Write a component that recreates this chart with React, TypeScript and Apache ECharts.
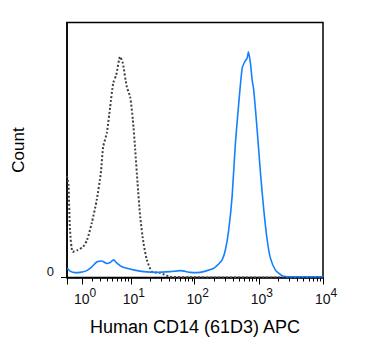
import React, { useEffect, useRef } from "react";
import * as echarts from "echarts";

// Fluorescence intensity (APC) and relative counts
const isotypeX = [-0.27, -0.145, -0.021, 0.203, 0.649, 1.09, 1.47, 1.96, 2.53, 3.06, 3.39, 3.96, 4.54, 5.13, 5.76, 6.69, 7.4, 8.61, 9.74, 10.76, 11.72, 12.76, 14.07, 15.84, 17.92, 21.5, 29.0, 41.6, 85, 300, 2000, 10000];
const isotypeY = [39.8, 36.3, 18.6, 10.1, 10.8, 12.0, 14.7, 21.4, 30.4, 41.0, 51.2, 56.7, 66.9, 76.3, 79.4, 86.6, 84.1, 74.7, 70.8, 61.8, 50.0, 37.1, 23.7, 13.5, 6.9, 2.3, 1.8, 0.3, 0.1, 0, 0, 0];

const cd14X = [-0.245, -0.021, 0.394, 0.823, 1.44, 1.96, 2.53, 3.2, 3.96, 4.54, 5.2, 5.92, 7.13, 8.61, 11.39, 15.84, 25.7, 41.6, 59.6, 85.4, 108.8, 137.9, 197.7, 236.5, 267.4, 301, 339, 383, 431, 486, 549, 603, 657, 688, 740, 786, 833, 942, 1061, 1194, 1349, 1519, 1819, 2315, 3120, 10000];
const cd14Y = [3.6, 2.5, 1.9, 2.0, 2.7, 4.2, 6.1, 6.5, 5.5, 5.9, 6.9, 5.6, 4.2, 3.6, 2.9, 2.3, 2.0, 2.3, 2.7, 2.0, 1.9, 2.3, 3.6, 5.3, 6.9, 10.8, 18.6, 31.7, 52.6, 68.3, 82.0, 84.6, 86.0, 88.5, 84.0, 77.5, 73.5, 57.8, 40.9, 26.5, 14.7, 7.5, 2.9, 0.7, 0.3, 0.3];

const decades = [0, 1, 2, 3, 4];
const xMinValue = -0.27;
const xMaxValue = 10000;
const yTickLabels = [0];

const FONT = "'Liberation Sans', Arial, sans-serif";
const C = 2.3;
const T = (v: number) => Math.asinh(v / C) / Math.LN10;
const Tinv = (u: number) => C * Math.sinh(u * Math.LN10);

export default function App() {
  const ref = useRef<HTMLDivElement>(null);
  useEffect(() => {
    if (!ref.current) return;
    const chart = echarts.init(ref.current, undefined, { renderer: "svg" });
    const xmin = T(xMinValue);
    const xmax = T(xMaxValue);
    const majors = decades.map((k) => T(Math.pow(10, k)));
    const minors: number[] = [];
    for (let k = 0; k < 4; k++) {
      for (let m = 2; m <= 9; m++) minors.push(T(m * Math.pow(10, k)));
    }
    const isoData = isotypeX.map((x, i) => [T(x), isotypeY[i]]);
    const cdData = cd14X.map((x, i) => [T(x), cd14Y[i]]);
    chart.setOption({
      animation: false,
      grid: {
        left: 67,
        right: 52,
        top: 22.5,
        bottom: 81.5,
        show: true,
        borderColor: "#000",
        borderWidth: 1.5,
        containLabel: false,
        outerBoundsMode: "none",
      },
      xAxis: [
        {
          type: "value",
          min: xmin,
          max: xmax,
          position: "bottom",
          name: "Human CD14 (61D3) APC",
          nameLocation: "middle",
          nameGap: 40,
          nameTextStyle: { fontFamily: FONT, fontSize: 18, color: "#000" },
          axisLine: { show: true, onZero: false, lineStyle: { color: "#000", width: 1.5 } },
          axisTick: {
            show: true,
            length: 7,
            lineStyle: { color: "#000", width: 1 },
            customValues: [xmin, ...majors],
          },
          axisLabel: {
            show: true,
            margin: 14,
            customValues: majors,
            formatter: (val: number) => {
              const k = Math.round(Math.log10(Tinv(val)));
              return `{sp|}{b|10}{s|${k}}`;
            },
            rich: {
              sp: { width: 6, lineHeight: 14 },
              b: { fontFamily: FONT, fontSize: 14, color: "#111", lineHeight: 14 },
              s: { fontFamily: FONT, fontSize: 12, color: "#111", lineHeight: 12, padding: [0, 0, 11, 0] },
            },
          },
          splitLine: { show: false },
        },
        {
          type: "value",
          min: xmin,
          max: xmax,
          position: "bottom",
          offset: 0,
          axisLine: { show: false, onZero: false },
          axisTick: {
            show: true,
            length: 4,
            lineStyle: { color: "#000", width: 1 },
            customValues: minors,
          },
          axisLabel: { show: false },
          splitLine: { show: false },
        },
      ],
      yAxis: {
        type: "value",
        min: 0,
        max: 100,
        name: "Count",
        nameLocation: "middle",
        nameGap: 40,
        nameTextStyle: { fontFamily: FONT, fontSize: 17, color: "#000" },
        axisLine: { show: true, onZero: false, lineStyle: { color: "#000", width: 1.5 } },
        axisTick: {
          show: true,
          length: 6,
          lineStyle: { color: "#000", width: 1 },
          customValues: yTickLabels,
        },
        axisLabel: {
          show: true,
          customValues: yTickLabels,
          margin: 13,
          fontFamily: FONT,
          fontSize: 13,
          color: "#111",
          verticalAlign: "bottom",
        },
        splitLine: { show: false },
      },
      series: [
        {
          type: "line",
          name: "Isotype",
          data: isoData,
          xAxisIndex: 0,
          showSymbol: false,
          smooth: 0.2,
          lineStyle: { color: "#404040", width: 2, type: "dotted" },
          z: 3,
        },
        {
          type: "line",
          name: "CD14",
          data: cdData,
          xAxisIndex: 0,
          showSymbol: false,
          smooth: 0.2,
          lineStyle: { color: "#1580ff", width: 1.6 },
          z: 4,
        },
      ],
    });
    return () => chart.dispose();
  }, []);
  return (
    <div
      ref={ref}
      style={{ position: "fixed", left: 0, top: 0, width: 375, height: 359, background: "#fff" }}
    />
  );
}
